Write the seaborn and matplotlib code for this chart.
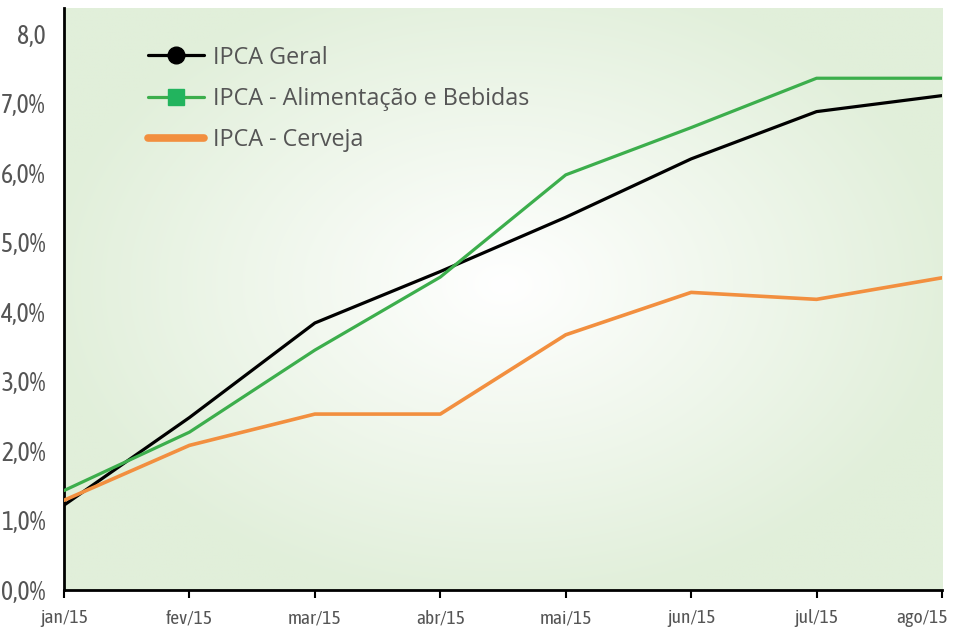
import numpy as np
import pandas as pd
import matplotlib
matplotlib.use("Agg")
import matplotlib.pyplot as plt
import matplotlib.transforms as mtransforms
import seaborn as sns
from matplotlib.lines import Line2D

months = ["jan/15", "fev/15", "mar/15", "abr/15", "mai/15", "jun/15", "jul/15", "ago/15"]
ipca_geral = [1.22, 2.48, 3.84, 4.58, 5.36, 6.20, 6.88, 7.11]
ipca_alim = [1.43, 2.27, 3.45, 4.50, 5.97, 6.65, 7.36, 7.36]
ipca_cerveja = [1.29, 2.08, 2.53, 2.53, 3.67, 4.28, 4.18, 4.49]
series_names = ["IPCA Geral", "IPCA - Alimentação e Bebidas", "IPCA - Cerveja"]
y_ticks = [0, 1, 2, 3, 4, 5, 6, 7, 8]
y_labels = ["0,0%", "1,0%", "2,0%", "3,0%", "4,0%", "5,0%", "6,0%", "7,0%", "8,0"]

colors = {"IPCA Geral": "#000000", "IPCA - Alimentação e Bebidas": "#3cae4c",
          "IPCA - Cerveja": "#f28f3f"}

rows = []
for name, vals in zip(series_names, [ipca_geral, ipca_alim, ipca_cerveja]):
    for i, v in enumerate(vals):
        rows.append({"x": i, "mes": months[i], "valor": v, "serie": name})
df = pd.DataFrame(rows)

sns.set_theme(style="white")
plt.rcParams['font.family'] = ['Asap Condensed', 'DejaVu Sans']

fig = plt.figure(figsize=(9.63, 6.3), dpi=100)
ax = fig.add_axes([64/963, 40/630, 878/963, 582/630])

# radial gradient background
nx, ny = 300, 200
gx = np.linspace(-1, 1, nx)
gy = np.linspace(-1, 1, ny)
X, Y = np.meshgrid(gx, gy)
R = np.sqrt(((X - 0.0) / 1.05) ** 2 + ((Y - 0.05) / 1.1) ** 2)
R = np.clip(R, 0, 1)
c_center = np.array([1.0, 1.0, 1.0])
c_edge = np.array([0xe1, 0xef, 0xda]) / 255.0
img = c_center[None, None, :] * (1 - R[..., None]) + c_edge[None, None, :] * R[..., None]
ymax = 8.37
ax.imshow(img, extent=[0, 7, 0, ymax], aspect='auto', zorder=0, origin='lower',
          interpolation='bilinear')

sns.lineplot(data=df, x="x", y="valor", hue="serie", palette=colors, ax=ax,
             legend=False, zorder=3, linewidth=2.3)
for line in ax.get_lines():
    if line.get_color() == "#f28f3f":
        line.set_linewidth(2.6)

ax.set_xlim(0, 7)
ax.set_ylim(0, ymax)
ax.set_xticks(range(len(months)))
ax.set_xticklabels(months)
ax.set_yticks(y_ticks)
ax.set_yticklabels(y_labels)
ax.set_xlabel("")
ax.set_ylabel("")

for s in ["top", "right"]:
    ax.spines[s].set_visible(False)
for s in ["left", "bottom"]:
    ax.spines[s].set_color("black")
    ax.spines[s].set_linewidth(2.0)

ax.tick_params(axis="x", bottom=True, length=6, width=1.5, color="black",
               labelsize=14, labelcolor="#555555", pad=8)
ax.tick_params(axis="y", left=False, labelsize=18.5, labelcolor="#555555", pad=7)
last = ax.get_xticklabels()[-1]
last.set_horizontalalignment("right")
last.set_transform(last.get_transform() + mtransforms.ScaledTranslation(6/100, 0, fig.dpi_scale_trans))

handles = [
    Line2D([], [], color="#000000", lw=2.3, marker="o", markersize=12),
    Line2D([], [], color="#3cae4c", lw=2.3, marker="s", markersize=11,
           markerfacecolor="#22b45e", markeredgecolor="#22b45e"),
    Line2D([], [], color="#f28f3f", lw=5.5, solid_capstyle="round"),
]
leg = ax.legend(handles, series_names, loc="upper left",
                bbox_to_anchor=(129/963, 1 - 27/630), bbox_transform=fig.transFigure,
                frameon=False, handlelength=2.4, handletextpad=0.4,
                labelspacing=0.74, borderpad=0.3,
                prop={"family": ["Open Sans", "DejaVu Sans"], "size": 16.8})
for t in leg.get_texts():
    t.set_color("#555555")

fig.savefig("out.png", dpi=100)
